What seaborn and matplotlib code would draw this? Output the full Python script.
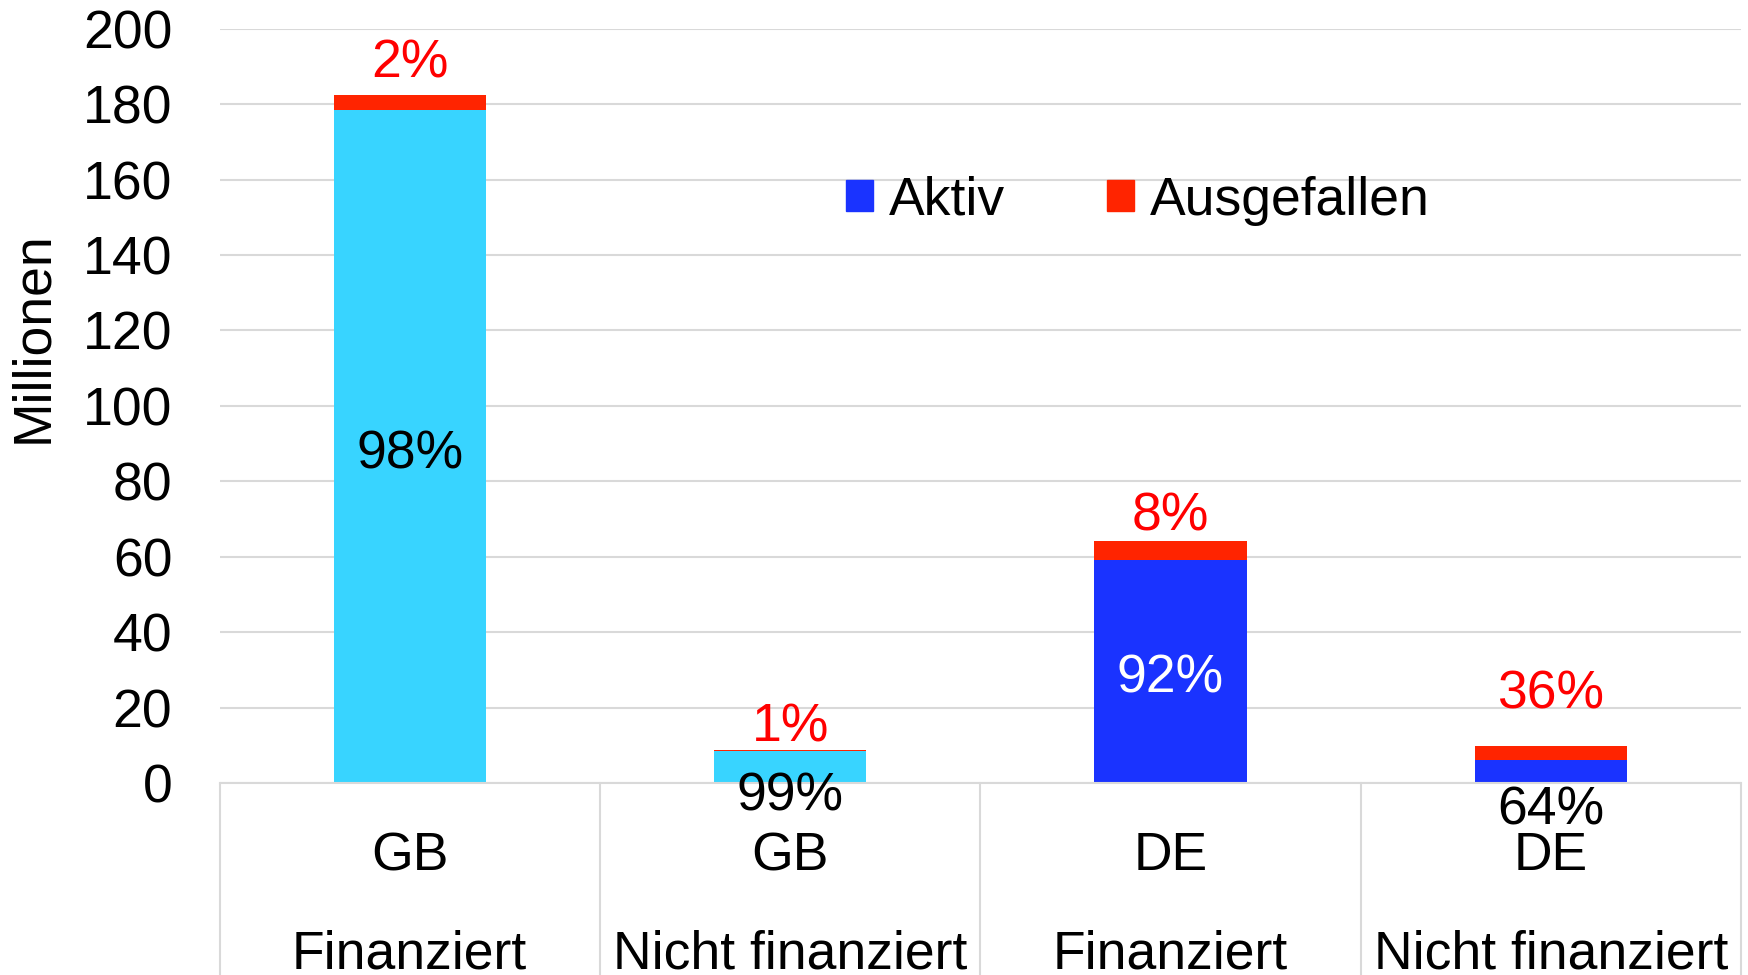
import numpy as np
import pandas as pd
import matplotlib
matplotlib.use("Agg")
import matplotlib.pyplot as plt
import matplotlib.transforms as mtransforms
from matplotlib.patches import Patch
import seaborn as sns

# Data (millions)
categories = ["GB Finanziert", "GB Nicht finanziert", "DE Finanziert", "DE Nicht finanziert"]
countries = ["GB", "GB", "DE", "DE"]
groups = ["Finanziert", "Nicht finanziert", "Finanziert", "Nicht finanziert"]
aktiv = [178.5, 8.5, 59.0, 6.2]
ausgefallen = [4.0, 0.1, 5.2, 3.5]
aktiv_pct = ["98%", "99%", "92%", "64%"]
ausgef_pct = ["2%", "1%", "8%", "36%"]

df = pd.DataFrame({"cat": categories, "aktiv": aktiv, "ausgefallen": ausgefallen})
df["total"] = df["aktiv"] + df["ausgefallen"]

sns.set_theme(style="white")
plt.rcParams["font.family"] = ["Liberation Sans", "DejaVu Sans"]
plt.rcParams["text.color"] = "black"
plt.rcParams["axes.labelcolor"] = "black"
plt.rcParams["ytick.color"] = "black"

CYAN = "#38D4FF"
BLUE = "#1A33FF"
RED = "#FF2400"
GRID = "#D9D9D9"
FS = 38.5

fig = plt.figure(figsize=(17.48, 9.75), dpi=100)
ax = fig.add_axes([0.1256, 0.197, 0.8704, 0.7735])

sns.barplot(data=df, x="cat", y="total", color=RED, width=0.4, saturation=1,
            linewidth=0, ax=ax)
sns.barplot(data=df, x="cat", y="aktiv", hue="cat", palette=[CYAN, CYAN, BLUE, BLUE],
            width=0.4, saturation=1, linewidth=0, legend=False, ax=ax)

ax.set_ylim(0, 200)
ax.set_xlim(-0.5, 3.5)
ax.set_yticks(np.arange(0, 201, 20))
ax.tick_params(axis="y", labelsize=FS, length=0, pad=34)
ax.yaxis.grid(True, color=GRID, linewidth=1.5)
ax.set_axisbelow(True)
for s in ["left", "right", "top"]:
    ax.spines[s].set_visible(False)
ax.spines["bottom"].set_color(GRID)
ax.spines["bottom"].set_linewidth(1.5)

ax.set_xlabel("")
ax.set_xticks([])
ax.set_ylabel("Millionen", fontsize=FS)
ax.yaxis.set_label_coords(-0.106, 0.591)

# two-level category axis
trans = mtransforms.blended_transform_factory(ax.transData, ax.transAxes)
for i in range(len(categories)):
    ax.text(i, -0.097, countries[i], transform=trans, ha="center", va="center", fontsize=FS)
    ax.text(i, -0.228, groups[i], transform=trans, ha="center", va="center", fontsize=FS)
for b in np.arange(-0.5, len(categories), 1.0):
    ax.plot([b, b], [0, -0.3], transform=trans, color=GRID, linewidth=1.5, clip_on=False)

# percentage labels
inner_dy = [-8, -30, -7, -39]      # pixel shift of the labels
outer_dy = [31, 23, 24, 52]
for i in range(len(categories)):
    a = df["aktiv"][i]
    t = df["total"][i]
    col = "white" if countries[i] == "DE" and a > 20 else "black"
    ax.annotate(aktiv_pct[i], (i, a / 2), xytext=(0, inner_dy[i]), textcoords="offset pixels",
                ha="center", va="center", fontsize=FS, color=col, annotation_clip=False)
    ax.annotate(ausgef_pct[i], (i, t), xytext=(0, outer_dy[i]), textcoords="offset pixels",
                ha="center", va="center", fontsize=FS, color="#FF0000")

handles = [Patch(color=BLUE, label="Aktiv"), Patch(color=RED, label="Ausgefallen")]
ax.legend(handles=handles, loc="center", bbox_to_anchor=(0.6036, 0.772), ncol=2, frameon=False,
          fontsize=FS, handlelength=0.5, handleheight=0.5, columnspacing=1.9, handletextpad=0.3)

fig.savefig("out.png", dpi=100)
